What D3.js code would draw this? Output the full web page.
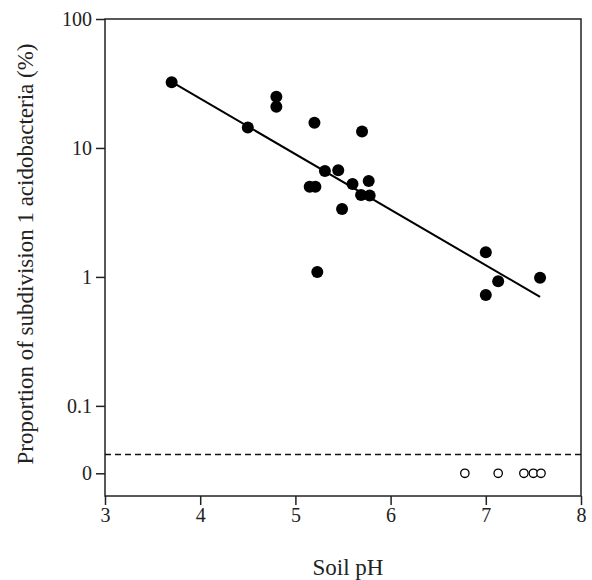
<!DOCTYPE html>
<html>
<head>
<meta charset="utf-8">
<script src="https://d3js.org/d3.v7.min.js"></script>
<style>
  body { margin: 0; background: #fff; }
  svg text { font-family: "Liberation Serif", "Times New Roman", serif; fill: #222; }
</style>
</head>
<body>
<script>
// samples with detectable subdivision 1 (pH, %)
const phFound  = [3.70, 4.50, 4.80, 4.80, 5.20, 5.70, 5.31, 5.45, 5.15, 5.21, 5.60, 5.77, 5.69, 5.78, 5.49, 5.23, 7.00, 7.13, 7.00, 7.57];
const pctFound = [32.3, 14.4, 25.0, 20.9, 15.7, 13.4, 6.63, 6.71, 5.0, 5.0, 5.25, 5.54, 4.32, 4.27, 3.36, 1.09, 1.55, 0.925, 0.724, 0.986];
// samples where it was not detected (plotted on the "0" row)
const phNone = [6.78, 7.13, 7.40, 7.50, 7.58];
// regression line end points
const fitPh  = [3.70, 7.57];
const fitPct = [32.5, 0.70];

const xTicks = [3, 4, 5, 6, 7, 8];
const yTicks = [100, 10, 1, 0.1];
const zeroRow = 0.03;    // where the "0" row sits on the log axis
const cutLine = 0.042;   // dashed break / detection line

const W = 592, H = 580;
const m = {left: 105, right: 11, top: 19, bottom: 84};

const x = d3.scaleLinear().domain([3, 8]).range([m.left, W - m.right]);
const y = d3.scaleLog().domain([0.02, 100]).range([H - m.bottom, m.top]);

const svg = d3.select("body").append("svg")
  .attr("width", W).attr("height", H);

// frame
svg.append("rect")
  .attr("x", x(3)).attr("y", y(100))
  .attr("width", x(8) - x(3)).attr("height", y(0.02) - y(100))
  .attr("fill", "none").attr("stroke", "#222").attr("stroke-width", 1.5);

const yAxis = svg.append("g")
  .attr("transform", "translate(" + x(3) + ",0)")
  .call(d3.axisLeft(y)
    .tickValues(yTicks.concat([zeroRow]))
    .tickFormat(d => d === zeroRow ? "0" : String(d))
    .tickSize(9).tickPadding(4));
yAxis.select(".domain").remove();

const xAxis = svg.append("g")
  .attr("transform", "translate(0," + y(0.02) + ")")
  .call(d3.axisBottom(x).tickValues(xTicks).tickFormat(d3.format("d"))
    .tickSize(9).tickPadding(3));
xAxis.select(".domain").remove();

svg.selectAll(".tick line").attr("stroke", "#222").attr("stroke-width", 1.5);
svg.selectAll(".tick text")
  .style("font-family", "'Liberation Serif', serif")
  .style("font-size", "20px").attr("fill", "#222");

// dashed line
svg.append("line")
  .attr("x1", x(3)).attr("x2", x(8))
  .attr("y1", y(cutLine)).attr("y2", y(cutLine))
  .attr("stroke", "#111").attr("stroke-width", 1.5)
  .attr("stroke-dasharray", "6,4");

// regression line
const line = d3.line().x(d => x(d[0])).y(d => y(d[1]));
svg.append("path")
  .datum(d3.zip(fitPh, fitPct))
  .attr("d", line)
  .attr("fill", "none").attr("stroke", "#000").attr("stroke-width", 2);

svg.append("g").selectAll("circle")
  .data(d3.zip(phFound, pctFound))
  .enter().append("circle")
  .attr("cx", d => x(d[0]))
  .attr("cy", d => y(d[1]))
  .attr("r", 6)
  .attr("fill", "#000");

svg.append("g").selectAll("circle")
  .data(phNone)
  .enter().append("circle")
  .attr("cx", d => x(d))
  .attr("cy", y(zeroRow))
  .attr("r", 4.2)
  .attr("fill", "#fff").attr("stroke", "#000").attr("stroke-width", 1.3);

// axis titles
svg.append("text")
  .attr("x", 348).attr("y", 575)
  .attr("text-anchor", "middle")
  .style("font-size", "23px")
  .text("Soil pH");

svg.append("text")
  .attr("transform", "translate(33,254) rotate(-90)")
  .attr("text-anchor", "middle")
  .style("font-size", "23px")
  .text("Proportion of subdivision 1 acidobacteria (%)");
</script>
</body>
</html>
